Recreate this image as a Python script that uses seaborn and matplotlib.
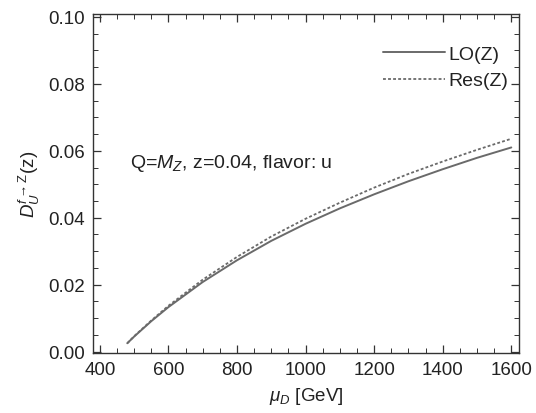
import matplotlib
matplotlib.use('Agg')
import matplotlib.pyplot as plt
from matplotlib.ticker import MultipleLocator
import seaborn as sns
import pandas as pd

# values
mu_D = [480, 500, 550, 600, 700, 800, 900, 1000, 1100, 1200, 1300, 1400, 1500, 1600]
lo_z = [0.0025, 0.0045, 0.0091, 0.0133, 0.0208, 0.0273, 0.0331, 0.0382,
        0.0428, 0.0470, 0.0509, 0.0545, 0.0579, 0.0610]
res_z = [0.0025, 0.0046, 0.0093, 0.0137, 0.0215, 0.0283, 0.0344, 0.0397,
         0.0445, 0.0490, 0.0531, 0.0568, 0.0603, 0.0636]

df = pd.DataFrame({'mu': mu_D, 'LO(Z)': lo_z, 'Res(Z)': res_z})

sns.set_style('ticks')
plt.rcParams['font.family'] = ['Liberation Sans', 'DejaVu Sans']
plt.rcParams['mathtext.fontset'] = 'custom'
plt.rcParams['mathtext.it'] = 'Liberation Sans:italic'
plt.rcParams['mathtext.rm'] = 'Liberation Sans'
plt.rcParams['mathtext.fallback'] = 'stixsans'

fig = plt.figure(figsize=(5.36, 4.14), dpi=100)
ax = fig.add_axes([0.1735, 0.145, 0.7945, 0.819])

line_col = '#6a6a6a'
sns.lineplot(data=df, x='mu', y='LO(Z)', ax=ax, color=line_col, lw=1.4, label='LO(Z)')
sns.lineplot(data=df, x='mu', y='Res(Z)', ax=ax, color=line_col, lw=1.3,
             linestyle=(0, (1.6, 1.2)), label='Res(Z)')

ax.set_xlim(380, 1622)
ax.set_ylim(-0.0004, 0.1009)
ax.xaxis.set_major_locator(MultipleLocator(200))
ax.xaxis.set_minor_locator(MultipleLocator(50))
ax.yaxis.set_major_locator(MultipleLocator(0.02))
ax.yaxis.set_minor_locator(MultipleLocator(0.005))
ax.yaxis.set_major_formatter(plt.FuncFormatter(lambda v, p: f'{v:.2f}'))

ax.tick_params(which='both', direction='in', top=True, right=True,
               labeltop=False, labelright=False, color='#333333',
               labelsize=13.5, labelcolor='#222222', pad=5.5)
ax.tick_params(which='major', length=6, width=0.9)
ax.tick_params(which='minor', length=3.5, width=0.7)
for s in ax.spines.values():
    s.set_color('#333333')
    s.set_linewidth(1.0)

ax.set_xlabel(r'$\mu_D$ [GeV]', fontsize=13.5, color='#222222', labelpad=5)
ax.set_ylabel(r'$D_U^{f\rightarrow \mathrm{Z}}(\mathrm{z})$', fontsize=13.5,
              color='#222222', labelpad=5)

ax.text(0.088, 0.563, r'Q=$M_Z$, z=0.04, flavor: u', transform=ax.transAxes,
        fontsize=14, va='center', ha='left', color='#222222')

leg = ax.legend(loc='upper right', bbox_to_anchor=(0.993, 0.93), frameon=False,
                fontsize=14, handlelength=3.2, handletextpad=0.15,
                labelspacing=0.45, borderaxespad=0)
for t in leg.get_texts():
    t.set_color('#222222')

fig.savefig('out.png', dpi=100)
